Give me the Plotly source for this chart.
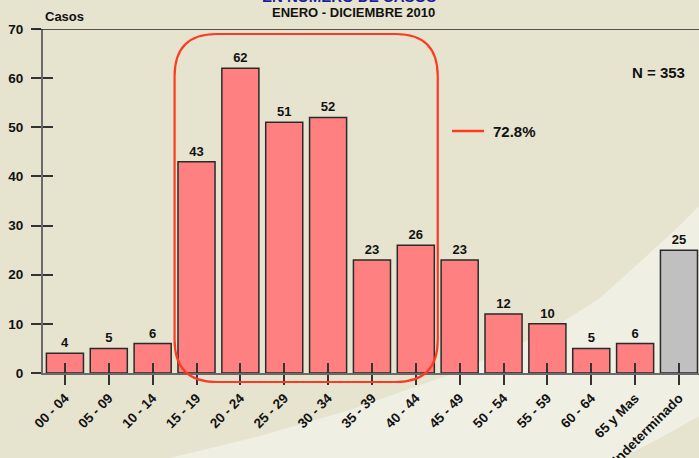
import plotly.graph_objects as go

# Age groups and case counts
grupos = ["00 - 04", "05 - 09", "10 - 14", "15 - 19", "20 - 24", "25 - 29", "30 - 34",
          "35 - 39", "40 - 44", "45 - 49", "50 - 54", "55 - 59", "60 - 64", "65 y Mas",
          "Indeterminado"]
casos = [4, 5, 6, 43, 62, 51, 52, 23, 26, 23, 12, 10, 5, 6, 25]
y_ticks = [0, 10, 20, 30, 40, 50, 60, 70]

# highlighted block: 15-19 .. 40-44
hl_start, hl_end = 3, 8
total = sum(casos)
pct = 100 * sum(casos[hl_start:hl_end + 1]) / total

W, H = 699, 458
L, R, T, B = 43, 0, 29, 85
plot_w, plot_h = W - L - R, H - T - B
x_range = [-0.5, -0.5 + plot_w / 43.86]
y_range = [0, 70]

FONT = "Liberation Sans, Arial, sans-serif"
BG = "#e6e4cf"
LIGHT = "#f0efe3"


def px(xp):
    return (xp - L) / plot_w


def py(yp):
    return (H - B - yp) / plot_h


xs = list(range(len(grupos)))
fill = ["#ff8080"] * (len(grupos) - 1) + ["#c0c0c0"]

fig = go.Figure()
fig.add_trace(go.Bar(
    x=xs, y=casos, width=0.845,
    marker=dict(color=fill, line=dict(color="#2a2a2a", width=1.5)),
    text=[str(v) for v in casos], textposition="outside",
    textfont=dict(family=FONT, size=13, color="#111", weight="bold"),
    cliponaxis=False, showlegend=False, hoverinfo="skip",
))
# empty trace that carries the inner halves of the crossing tick marks
fig.add_trace(go.Scatter(x=[None], y=[None], xaxis="x2", yaxis="y2",
                         showlegend=False, hoverinfo="skip"))

tickfont = dict(family=FONT, size=13, color="#111", weight="bold")
fig.update_layout(
    width=W, height=H,
    margin=dict(l=L, r=R, t=T, b=B, autoexpand=False),
    paper_bgcolor=BG, plot_bgcolor="rgba(0,0,0,0)",
    xaxis=dict(range=x_range, tickvals=xs, ticktext=grupos, tickangle=-45,
               ticks="outside", ticklen=10, tickwidth=1.5, tickcolor="#333",
               showline=True, linecolor="#6a6a6a", linewidth=2,
               showgrid=False, zeroline=False,
               tickfont=dict(tickfont, size=13.5), automargin=False,
               ticklabelstandoff=0, layer="above traces"),
    yaxis=dict(range=y_range, tickvals=y_ticks, ticks="outside", ticklen=10,
               tickwidth=1.5, tickcolor="#333", showline=True,
               linecolor="#6a6a6a", linewidth=2, showgrid=False,
               zeroline=False, tickfont=dict(tickfont, size=13.5),
               automargin=False, ticklabelstandoff=5),
    xaxis2=dict(overlaying="x", range=x_range, tickvals=xs, ticks="inside",
                ticklen=10, tickwidth=1.5, tickcolor="#333",
                showticklabels=False, showgrid=False, zeroline=False,
                showline=False, layer="above traces", anchor="y2",
                automargin=False),
    yaxis2=dict(overlaying="y", range=y_range, tickvals=y_ticks,
                ticks="inside", ticklen=10, tickwidth=1.5, tickcolor="#333",
                showticklabels=False, showgrid=False, zeroline=False,
                showline=False, anchor="x2", automargin=False),
)

# light swoosh in the background
curve_a = [(170, 458), (260, 436), (350, 410), (446, 376), (547, 332),
           (600, 298), (640, 262), (677, 228), (699, 206)]
curve_b = [(699, 416), (660, 438), (622, 458)]
pts = curve_a + curve_b
path = "M " + " L ".join(f"{px(a):.4f},{py(b):.4f}" for a, b in pts) + " Z"
fig.add_shape(type="path", path=path, xref="paper", yref="paper",
              fillcolor=LIGHT, line=dict(width=0), layer="below")

# top frame line at 70
fig.add_shape(type="line", xref="paper", yref="y", x0=px(33), x1=1.02,
              y0=70, y1=70, line=dict(color="#222", width=1.5))

# rounded box around the highlighted age groups
x0, x1 = hl_start - 0.5, hl_end + 0.5
y0, y1 = py(382), py(34)
rx, ry = 42 / 43.86, 42 / plot_h
box = (f"M {x0 + rx},{y1} L {x1 - rx},{y1} Q {x1},{y1} {x1},{y1 - ry} "
       f"L {x1},{y0 + ry} Q {x1},{y0} {x1 - rx},{y0} "
       f"L {x0 + rx},{y0} Q {x0},{y0} {x0},{y0 + ry} "
       f"L {x0},{y1 - ry} Q {x0},{y1} {x0 + rx},{y1} Z")
fig.add_shape(type="path", path=box, xref="x", yref="paper",
              line=dict(color="#ff3a22", width=2.2), fillcolor="rgba(0,0,0,0)")

# legend line for the highlighted share
fig.add_shape(type="line", xref="paper", yref="paper", x0=px(452), x1=px(484),
              y0=py(131), y1=py(131), line=dict(color="#ff3a22", width=2.5))

ann_font = dict(family=FONT, color="#111", weight="bold")
fig.add_annotation(x=px(491), y=py(131), xref="paper", yref="paper",
                   text=f"{pct:.1f}%", showarrow=False, xanchor="left",
                   yanchor="middle", font=dict(size=15, **ann_font))
fig.add_annotation(x=px(687), y=py(72), xref="paper", yref="paper",
                   text=f"N = {total}", showarrow=False, xanchor="right",
                   yanchor="middle", font=dict(size=15, **ann_font))
fig.add_annotation(x=px(43), y=py(17), xref="paper", yref="paper",
                   text="Casos", showarrow=False, xanchor="left",
                   yanchor="middle", font=dict(size=13, **ann_font))
fig.add_annotation(x=px(353.5), y=py(13), xref="paper", yref="paper",
                   text="ENERO - DICIEMBRE 2010", showarrow=False,
                   xanchor="center", yanchor="middle",
                   font=dict(size=13, **ann_font))
fig.add_annotation(x=px(349), y=py(-4), xref="paper", yref="paper",
                   text="EN NÚMERO DE CASOS", showarrow=False,
                   xanchor="center", yanchor="middle",
                   font=dict(family=FONT, size=15, color="#1c1ca0",
                             weight="bold"))

fig.write_html("out.html")
